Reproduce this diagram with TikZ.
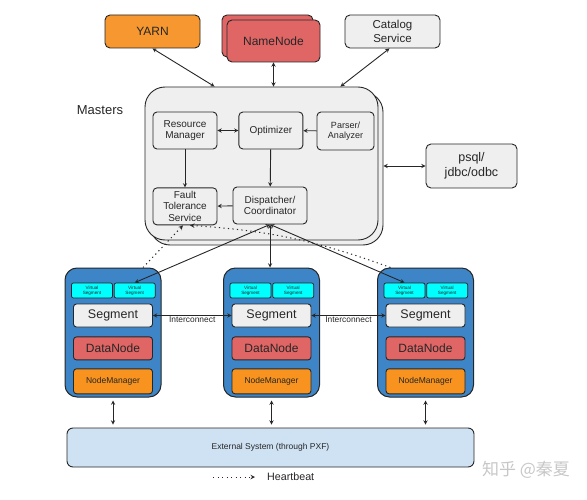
\documentclass[tikz,border=0pt]{standalone}
\usepackage{fontspec}
\setmainfont{Liberation Sans}
\newfontfamily\cjk{Noto Sans CJK SC}
\usepackage{tikz}
\usetikzlibrary{arrows}
\usetikzlibrary{positioning}
\definecolor{yarnorange}{HTML}{F6982F}
\definecolor{nmorange}{HTML}{F7931E}
\definecolor{nnred}{HTML}{E06666}
\definecolor{panelgray}{HTML}{EFEFEF}
\definecolor{hostblue}{HTML}{3D85C6}
\definecolor{vcyan}{HTML}{00FFFF}
\definecolor{extblue}{HTML}{CFE2F3}
\definecolor{inkgray}{HTML}{262626}

\begin{document}
\begin{tikzpicture}[x=1pt, y=-1pt,
      box/.style ={draw=inkgray, line width=0.9pt, align=center, inner sep=0pt, text=inkgray},
      service/.style ={box, rounded corners=5pt, minimum width=95pt, minimum height=33pt, font=\fontsize{12}{14}\selectfont},
      master/.style ={box, fill=panelgray, rounded corners=20pt, minimum width=233pt, minimum height=153pt},
      inner/.style ={box, fill=panelgray, rounded corners=4pt, minimum width=64pt, minimum height=37pt, font=\fontsize{10}{11.5}\selectfont},
      group/.style ={box, fill=hostblue, line width=1pt, rounded corners=12pt, minimum width=96pt, minimum height=129pt},
      vseg/.style ={box, fill=vcyan, line width=0.7pt, rounded corners=2pt, minimum width=41pt, minimum height=15pt, font=\fontsize{4.6}{5.2}\selectfont},
      seg/.style ={box, fill=panelgray, rounded corners=3pt, minimum width=79pt, minimum height=23pt, font=\fontsize{12.5}{14}\selectfont},
      datanode/.style ={seg, fill=nnred, font=\fontsize{12}{14}\selectfont},
      nodemgr/.style ={seg, fill=nmorange, minimum height=25pt, font=\fontsize{8.5}{10}\selectfont},
      extsys/.style ={box, fill=extblue, rounded corners=6pt, minimum width=407pt, minimum height=39pt, font=\fontsize{8.5}{10}\selectfont},
      link/.style ={<->, >=stealth, line width=0.9pt, draw=inkgray},
      flow/.style ={->, >=stealth, line width=0.9pt, draw=inkgray},
      beat/.style ={->, >=stealth, line width=1pt, draw=inkgray, dash pattern=on 1.2pt off 3.3pt},
      node distance=5pt
    ]
    \useasboundingbox (0,0) rectangle (587,500);

    % outside services
    \node [service, fill=yarnorange] (yarn) at (152.5,31.5) {YARN};
    \node [service, fill=nnred, minimum width=91pt, minimum height=42pt] (nnback) at (267.5,36) {};
    \node [service, fill=nnred, minimum width=93pt, minimum height=42pt] (namenode) at (273.5,41) {NameNode};
    \node [service, fill=panelgray, font=\fontsize{11.5}{13.5}\selectfont] (catalog) at (392.5,31.5) {Catalog\\Service};
    \node [service, fill=panelgray, minimum width=91pt, minimum height=44pt, font=\fontsize{12.5}{15}\selectfont] (psql) at (471.5,166) {psql/\\jdbc/odbc};

    % masters
    \node [master] (mback) at (266.5,168.5) {};
    \node [master] (masters) at (261.5,163.5) {};
    \node [font=\fontsize{13}{15}\selectfont, text=inkgray] (mlabel) at (100,110) {Masters};
    \node [inner] (resmgr) at (185,130.5) {Resource\\Manager};
    \node [inner, right=21pt of resmgr] (optimizer) {Optimizer};
    \node [inner, minimum width=57pt, minimum height=38pt, font=\fontsize{9}{10.5}\selectfont] (parser) at (345.5,131) {Parser/\\Analyzer};
    \node [inner, below=38pt of resmgr] (fault) {Fault\\Tolerance\\Service};
    \node [inner, minimum width=74pt] (dispatch) at (270,205.5) {Dispatcher/\\Coordinator};

    % segment hosts
    \node [group] (grp1) at (113,332.5) {};
    \node [vseg] (vsa1) at (92,290.5) {Virtual\\Segment};
    \node [vseg, right=1pt of vsa1] (vsb1) {Virtual\\Segment};
    \node [seg] (seg1) at (113,315.5) {Segment};
    \node [datanode, below=9pt of seg1] (dn1) {DataNode};
    \node [nodemgr, below=8pt of dn1] (nm1) {NodeManager};

    \node [group] (grp2) at (271.5,332.5) {};
    \node [vseg] (vsa2) at (250.5,290.5) {Virtual\\Segment};
    \node [vseg, right=1pt of vsa2] (vsb2) {Virtual\\Segment};
    \node [seg] (seg2) at (271.5,315.5) {Segment};
    \node [datanode, below=9pt of seg2] (dn2) {DataNode};
    \node [nodemgr, below=8pt of dn2] (nm2) {NodeManager};

    \node [group] (grp3) at (425.5,332.5) {};
    \node [vseg] (vsa3) at (404.5,290.5) {Virtual\\Segment};
    \node [vseg, right=1pt of vsa3] (vsb3) {Virtual\\Segment};
    \node [seg] (seg3) at (425.5,315.5) {Segment};
    \node [datanode, below=9pt of seg3] (dn3) {DataNode};
    \node [nodemgr, below=8pt of dn3] (nm3) {NodeManager};

    \node [extsys] (ext) at (270.5,447.5) {External System (through PXF)};

    % legend
    \node [font=\fontsize{10.7}{12}\selectfont, text=inkgray, anchor=west, inner sep=2pt] (hbeat) at (265,477) {Heartbeat};
    \coordinate (hbstart) at (213,477);
    \node [font=\cjk\fontsize{17}{17}\selectfont, text=black!22] (mark) at (526,470) {知乎 @秦夏};

    % connectors
    \draw [link] (yarn.south) -- ([xshift=70pt]masters.north west);
    \draw [link] (namenode.south) -- (namenode.south |- masters.north);
    \draw [link] ([xshift=-3pt]catalog.south) -- ([xshift=-38pt]masters.north east);
    \draw [link] (psql.west -| mback.east) -- (psql.west);

    \draw [link] (resmgr) -- (optimizer);
    \draw [flow] (parser) -- (optimizer);
    \draw [flow] (optimizer) -- (dispatch);
    \draw [flow] (resmgr) -- (fault);
    \draw [flow] (dispatch) -- (fault);

    \draw [link] (dispatch.south) -- (vsb1.north);
    \draw [link] (dispatch.south) -- (dispatch.south |- grp2.north);
    \draw [link] (dispatch.south) -- (vsa3.north);
    \draw [beat] ([xshift=30pt]grp1.north) -- ([xshift=-2pt]fault.south);
    \draw [beat] ([xshift=-35pt]grp3.north) to [bend right=8] ([xshift=5pt]fault.south);

    \draw [link] (seg1) -- node [below, inner sep=1pt, font=\fontsize{8.4}{10}\selectfont, text=inkgray] (ic1) {Interconnect} (seg2);
    \draw [link] (seg2) -- node [below, inner sep=1pt, font=\fontsize{8.4}{10}\selectfont, text=inkgray] (ic2) {Interconnect} (seg3);

    \draw [link, shorten <=3pt, shorten >=3pt] (grp1.south) -- (grp1.south |- ext.north);
    \draw [link, shorten <=3pt, shorten >=3pt] (grp2.south) -- (grp2.south |- ext.north);
    \draw [link, shorten <=3pt, shorten >=3pt] (grp3.south) -- (grp3.south |- ext.north);

    \draw [beat] (hbstart) -- ([xshift=-10pt]hbeat.west);
  \end{tikzpicture}
\end{document}
